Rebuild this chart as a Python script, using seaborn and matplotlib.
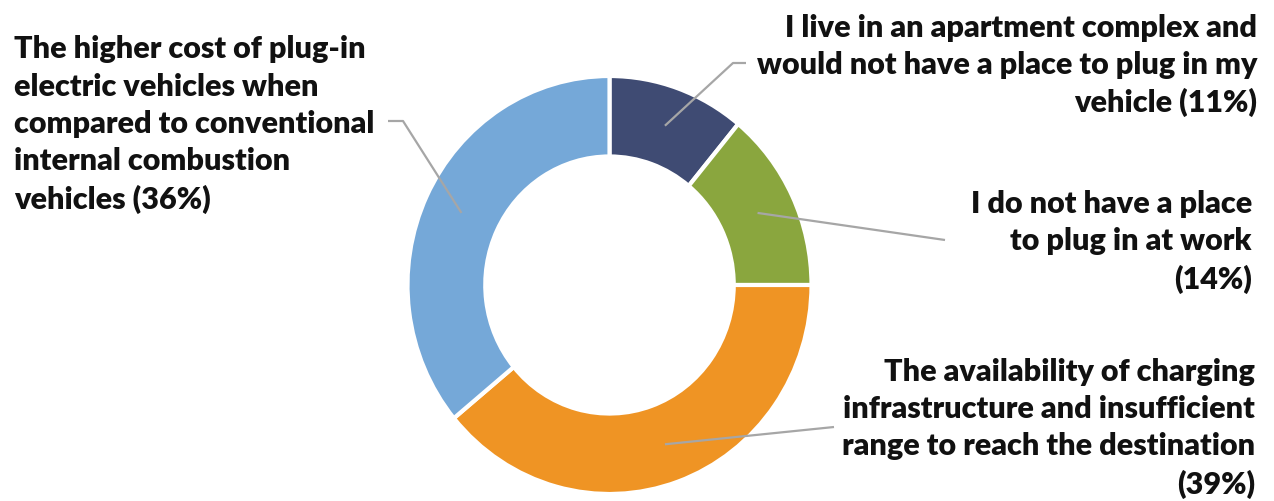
import numpy as np
import matplotlib
matplotlib.use("Agg")
import matplotlib.pyplot as plt
import seaborn as sns

sns.set_theme(style="white")
plt.rcParams['font.family'] = ['Lato', 'DejaVu Sans']

# ---- data ----
labels = [
    "I live in an apartment complex and\nwould not have a place to plug in my\nvehicle (11%)",
    "I do not have a place\nto plug in at work\n(14%)",
    "The availability of charging\ninfrastructure and insufficient\nrange to reach the destination\n(39%)",
    "The higher cost of plug-in\nelectric vehicles when\ncompared to conventional\ninternal combustion\nvehicles (36%)",
]
values = [11, 14, 39, 36]
colors = ["#3f4b73", "#8aa63e", "#ef9424", "#75a8d8"]

W, H = 1274, 501
fig = plt.figure(figsize=(W / 100, H / 100), dpi=100)
cx, cy, rx, ry = 609.5, 285, 202, 209
ax = fig.add_axes([(cx - rx) / W, (H - cy - ry) / H, 2 * rx / W, 2 * ry / H])

wedges, _ = ax.pie(values, colors=colors, startangle=90, counterclock=False,
                   wedgeprops=dict(width=0.385, edgecolor="white", linewidth=3))
ax.set_aspect('auto')
ax.set_xlim(-1, 1)
ax.set_ylim(-1, 1)
ax.axis('off')

# leader line elbows / ends in figure pixels (from top-left)
leader_pts = [
    [(733, 63), (746, 63)],
    [(945, 240)],
    [(834, 427)],
    [(403, 121), (388, 121)],
]
text_pos = [
    (1257, 65.5, 'right'),
    (1252, 242, 'right'),
    (1255, 428.5, 'right'),
    (14, 124.5, 'left'),
]

inv = ax.transData.inverted()
cum = np.cumsum([0] + values)
for i, w in enumerate(wedges):
    mid = (cum[i] + values[i] / 2) / sum(values) * 360
    r = 0.81
    ax0 = (r * np.sin(np.radians(mid)), r * np.cos(np.radians(mid)))
    pts = [ax0] + [tuple(inv.transform(fig.transFigure.transform((px / W, 1 - py / H))))
                   for px, py in leader_pts[i]]
    xs, ys = zip(*pts)
    ax.plot(xs, ys, color="#a6a6a6", lw=1.6, clip_on=False, solid_capstyle='butt')
    tx, ty, ha = text_pos[i]
    fig.text(tx / W, 1 - ty / H, labels[i], ha=ha, va='center', multialignment=ha,
             fontsize=22, fontweight='heavy', color="#111111", linespacing=1.4)

fig.savefig("out.png", dpi=100)
